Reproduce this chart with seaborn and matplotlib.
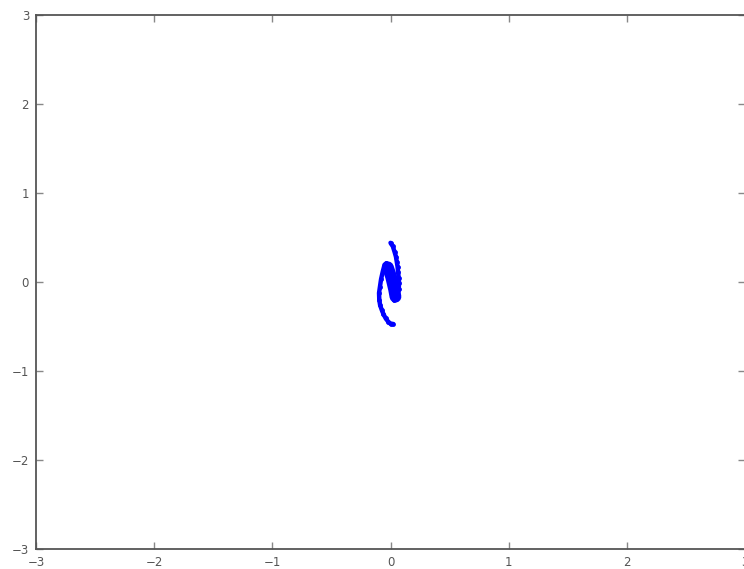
import numpy as np
import pandas as pd
import matplotlib
matplotlib.use("Agg")
import matplotlib.pyplot as plt
import seaborn as sns

# points along the curve (x, y in data units)
xs = [0.000, 0.020, 0.034, 0.046, 0.053, 0.060, 0.064, 0.070, 0.072, 0.070,
      0.060, 0.045, 0.030, 0.025, 0.010, -0.010, -0.025, -0.035, -0.050,
      -0.065, -0.080, -0.090, -0.097, -0.095, -0.088, -0.075, -0.060,
      -0.040, -0.020, 0.000, 0.020]
ys = [0.440, 0.400, 0.340, 0.285, 0.228, 0.170, 0.112, 0.040, -0.010, -0.080,
      -0.150, -0.195, -0.205, -0.120, 0.000, 0.100, 0.185, 0.210, 0.195,
      0.120, 0.030, -0.060, -0.124, -0.200, -0.260, -0.310, -0.360,
      -0.410, -0.445, -0.470, -0.470]

# thick band through the middle of the curve
mid_x = [0.042, 0.030, 0.005, -0.022]
mid_y = [-0.165, -0.080, 0.060, 0.165]

xticks = [-3, -2, -1, 0, 1, 2, 3]
yticks = [-3, -2, -1, 0, 1, 2, 3]
tick_text = ["\u22123", "\u22122", "\u22121", "0", "1", "2", "3"]

df = pd.DataFrame({"x": xs, "y": ys})
mid = pd.DataFrame({"x": mid_x, "y": mid_y})

sns.set_style("white")
plt.rcParams['font.family'] = ['DejaVu Sans']

fig = plt.figure(figsize=(7.44, 5.69), dpi=100)
ax = fig.add_axes([36 / 744, 20 / 569, 709 / 744, 534 / 569])

sns.lineplot(data=df, x="x", y="y", sort=False, estimator=None, ax=ax,
             color="#0000ff", linewidth=3.2, marker="o", markersize=3.5,
             markeredgewidth=0)
sns.lineplot(data=mid, x="x", y="y", sort=False, estimator=None, ax=ax,
             color="#0000ff", linewidth=8.5, solid_capstyle="round")

ax.set_xlim(-3, 3)
ax.set_ylim(-3, 3)
ax.set_xticks(xticks)
ax.set_yticks(yticks)
ax.set_xticklabels(tick_text)
ax.set_yticklabels(tick_text)
ax.set_xlabel("")
ax.set_ylabel("")
ax.tick_params(direction="in", length=5, width=1, color="#888888",
               labelcolor="#555555", labelsize=8.5, top=True, right=True,
               bottom=True, left=True, pad=5)
for sp in ax.spines.values():
    sp.set_color("#555555")
    sp.set_linewidth(1.3)
    sp.set_visible(True)

fig.savefig("out.png", dpi=100)
